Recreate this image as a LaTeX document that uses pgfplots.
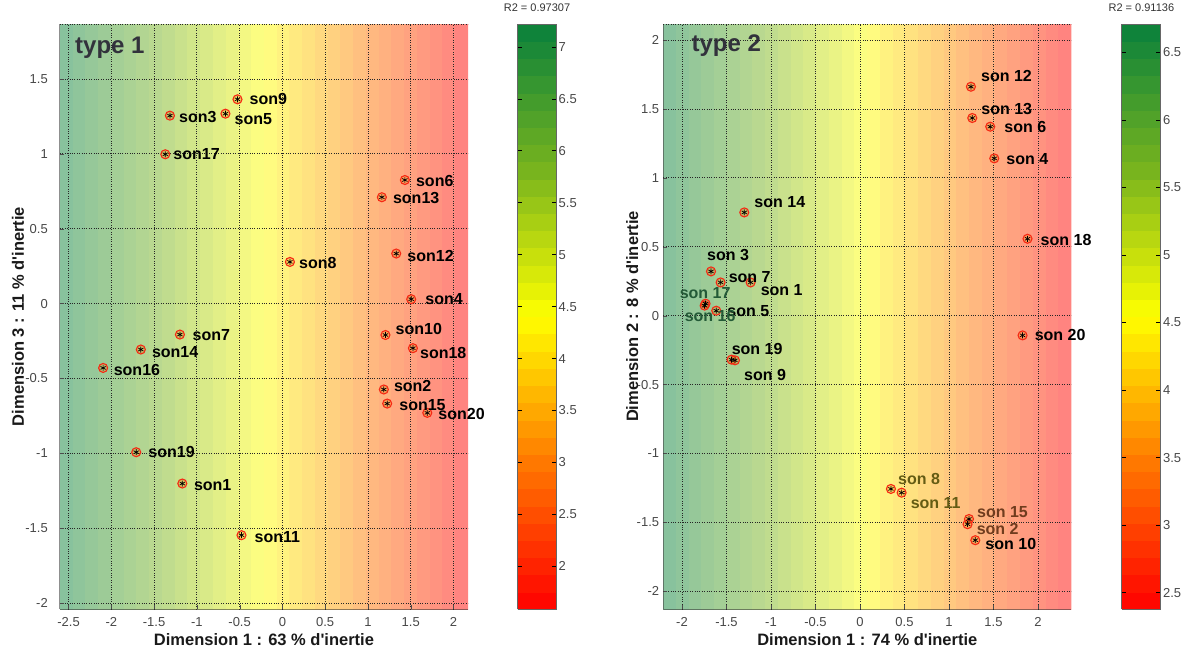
\documentclass[border=0pt]{standalone}
\usepackage{pgfplots}
\usepackage{pgfplotstable}
\pgfplotsset{compat=1.18}
\usepackage{fontspec}
\setmainfont{Liberation Sans}

\definecolor{lblgreen}{RGB}{35,90,55}
\definecolor{lblolive}{RGB}{100,92,20}
\definecolor{lblbrown}{RGB}{112,60,30}
\definecolor{ringred}{RGB}{245,40,20}
\definecolor{typegray}{RGB}{50,50,60}

\pgfplotsset{
  colormap={rgbg}{rgb255=(255,128,128) rgb255=(255,188,128) rgb255=(255,255,128) rgb255=(188,218,143) rgb255=(132,192,158)},
  colormap={rg}{rgb255=(255,0,0) rgb255=(255,120,0) rgb255=(255,255,0) rgb255=(120,180,30) rgb255=(8,128,60)},
}

% type 1 points
\pgfplotstableread{
x y lab dx dy
-0.525 1.364 son9 12 0
-1.315 1.255 son3 9 -1
-0.666 1.268 son5 9 -5
-1.369 0.997 son17 8 0
0.088 0.278 son8 9 -1
1.432 0.825 son6 11 -1
1.163 0.710 son13 11 -1
1.331 0.334 son12 11 -2
1.506 0.029 son4 14 0
1.205 -0.210 son10 10 6
1.526 -0.298 son18 7 -5
1.186 -0.574 son2 10 3.5
1.225 -0.668 son15 12 -2
1.694 -0.730 son20 11 -1.5
-1.198 -0.207 son7 12.5 -1
-1.655 -0.307 son14 11 -3
-2.096 -0.430 son16 10.5 -2.5
-1.709 -0.993 son19 12 0
-1.170 -1.202 son1 11.5 -1.5
-0.478 -1.547 son11 13 -2
}\tA

% type 2 points, grouped by label colour
\pgfplotstableread[col sep=comma]{
x,y,lab,dx,dy
1.247,1.661,son 12,10,10.7
1.262,1.434,son 13,9,9
1.464,1.371,son 6,14,-0.7
1.509,1.141,son 4,12,-0.6
1.883,0.558,son 18,13,-1
-1.300,0.749,son 14,10,10
-1.674,0.321,son 3,-4,16
-1.566,0.241,son 7,8,5
-1.229,0.241,son 1,10,-8
-1.615,0.036,son 5,11,0
-1.443,-0.319,son 19,0,10.7
-1.405,-0.324,son 9,9,-14.6
1.296,-1.629,son 10,10,-3.3
1.827,-0.143,son 20,12,0
}\tBk
\pgfplotstableread[col sep=comma]{
x,y,lab,dx,dy
-1.735,0.087,son 17,-26,11
-1.746,0.073,son 16,-20,-10.7
}\tBg
\pgfplotstableread[col sep=comma]{
x,y,lab,dx,dy
0.348,-1.257,son 8,7,9.7
0.468,-1.284,son 11,9,-10.3
}\tBo
\pgfplotstableread[col sep=comma]{
x,y,lab,dx,dy
1.225,-1.475,son 15,8,6.6
1.209,-1.513,son 2,9,-5
}\tBb

\pgfplotsset{
  myaxis/.style={
    scale only axis, width=408pt, height=585pt,
    axis on top,
    axis x line*=bottom, axis y line*=left,
    axis line style={black!80, opacity=0.55, line width=1pt},
    grid=major, grid style={dotted, black!85, line width=0.75pt},
    tick align=inside, major tick length=4pt, tick style={black!70},
    ticklabel style={font=\fontsize{13}{13}\selectfont, text=black!72, inner sep=0pt},
    /pgf/number format/assume math mode=true,
    xticklabel shift=8.7pt,
    label style={font=\fontsize{16.5}{16.5}\selectfont\bfseries, text=black!90},
    xlabel style={at={(axis description cs:0.5,-0.053)}, anchor=center},
    colormap name=rg,
    colorbar, colorbar sampled,
    colorbar style={
      at={(parent axis.north east)}, anchor=north west,
      width=39pt, samples=35,
      axis line style={black!60, line width=0.8pt},
      ytick pos=both, yticklabel pos=right,
      tick align=inside, major tick length=4.5pt, tick style={black, line width=0.6pt},
      yticklabel style={font=\fontsize{13}{13}\selectfont, text=black!72, inner sep=0pt},
      /pgf/number format/assume math mode=true,
      yticklabel shift=2pt,
      title style={at={(0.5,1)}, anchor=south, inner sep=0pt, yshift=6pt, font=\fontsize{11}{11}\selectfont, text=black!80},
    },
  },
  circ/.style={only marks, mark=*, mark size=4.5pt,
    mark options={draw=ringred, fill=orange, fill opacity=0.3, line width=1.1pt}},
  ast/.style={only marks, mark=asterisk, mark size=3pt, mark options={black, line width=0.7pt}},
  lbl/.style={draw=none, mark=none, nodes near coords, point meta=explicit symbolic,
    visualization depends on={\thisrow{dx}\as\ldx},
    visualization depends on={\thisrow{dy}\as\ldy},
    nodes near coords style={anchor=west, inner sep=0pt, xshift=\ldx pt, yshift=\ldy pt,
      font=\fontsize{16}{16}\selectfont\bfseries, text=#1}},
  lbl/.default=black,
}

\begin{document}
\begin{tikzpicture}
\begin{axis}[myaxis,
  xmin=-2.6, xmax=2.17, ymin=-2.04, ymax=1.867,
  xtick={-2.5,-2,-1.5,-1,-0.5,0,0.5,1,1.5,2},
  ytick={-2,-1.5,-1,-0.5,0,0.5,1,1.5},
  extra y ticks={1.867}, extra y tick labels={}, extra y tick style={major tick length=0pt},
  yticklabel shift=12pt,
  xlabel={Dimension 1 : 63 \% d\textquotesingle inertie},
  ylabel={Dimension 3 : 11 \% d\textquotesingle inertie},
  ylabel style={at={(axis description cs:-0.103,0.5)}, anchor=center},
  point meta min=1.59, point meta max=7.22,
  colorbar style={xshift=41pt, ytick={2,2.5,3,3.5,4,4.5,5,5.5,6,6.5,7}, title={R2 = 0.97307}},
]
\addplot[surf, shader=flat mean, colormap name=rgbg, mesh/cols=33, point meta=\thisrow{c}] table {
x y c
-2.600 -2.04 7.220
-2.451 -2.04 7.044
-2.302 -2.04 6.868
-2.153 -2.04 6.692
-2.004 -2.04 6.516
-1.855 -2.04 6.340
-1.706 -2.04 6.164
-1.557 -2.04 5.988
-1.407 -2.04 5.813
-1.258 -2.04 5.637
-1.109 -2.04 5.461
-0.960 -2.04 5.285
-0.811 -2.04 5.109
-0.662 -2.04 4.933
-0.513 -2.04 4.757
-0.364 -2.04 4.581
-0.215 -2.04 4.405
-0.066 -2.04 4.229
0.083 -2.04 4.053
0.232 -2.04 3.877
0.381 -2.04 3.701
0.531 -2.04 3.526
0.680 -2.04 3.350
0.829 -2.04 3.174
0.978 -2.04 2.998
1.127 -2.04 2.822
1.276 -2.04 2.646
1.425 -2.04 2.470
1.574 -2.04 2.294
1.723 -2.04 2.118
1.872 -2.04 1.942
2.021 -2.04 1.766
2.170 -2.04 1.590
-2.600 1.867 7.220
-2.451 1.867 7.044
-2.302 1.867 6.868
-2.153 1.867 6.692
-2.004 1.867 6.516
-1.855 1.867 6.340
-1.706 1.867 6.164
-1.557 1.867 5.988
-1.407 1.867 5.813
-1.258 1.867 5.637
-1.109 1.867 5.461
-0.960 1.867 5.285
-0.811 1.867 5.109
-0.662 1.867 4.933
-0.513 1.867 4.757
-0.364 1.867 4.581
-0.215 1.867 4.405
-0.066 1.867 4.229
0.083 1.867 4.053
0.232 1.867 3.877
0.381 1.867 3.701
0.531 1.867 3.526
0.680 1.867 3.350
0.829 1.867 3.174
0.978 1.867 2.998
1.127 1.867 2.822
1.276 1.867 2.646
1.425 1.867 2.470
1.574 1.867 2.294
1.723 1.867 2.118
1.872 1.867 1.942
2.021 1.867 1.766
2.170 1.867 1.590
};
\addplot[circ] table[x=x, y=y] {\tA};
\addplot[ast] table[x=x, y=y] {\tA};
\addplot[lbl] table[x=x, y=y, meta=lab] {\tA};
\node[anchor=west, inner sep=0pt, xshift=15pt, yshift=-24pt, font=\fontsize{24}{24}\selectfont\bfseries, text=typegray] at (rel axis cs:0,1) {type 1};
\end{axis}

\begin{axis}[myaxis, at={(603.3pt,0pt)},
  xmin=-2.21, xmax=2.375, ymin=-2.128, ymax=2.116,
  xtick={-2,-1.5,-1,-0.5,0,0.5,1,1.5,2},
  ytick={-2,-1.5,-1,-0.5,0,0.5,1,1.5,2},
  extra y ticks={2.116}, extra y tick labels={}, extra y tick style={major tick length=0pt},
  yticklabel shift=4pt,
  xlabel={Dimension 1 : 74 \% d\textquotesingle inertie},
  ylabel={Dimension 2 : 8 \% d\textquotesingle inertie},
  ylabel style={at={(axis description cs:-0.076,0.5)}, anchor=center},
  point meta min=2.38, point meta max=6.71,
  colorbar style={xshift=42pt, ytick={2.5,3,3.5,4,4.5,5,5.5,6,6.5}, title={R2 = 0.91136}},
]
\addplot[surf, shader=flat mean, colormap name=rgbg, mesh/cols=33, point meta=\thisrow{c}] table {
x y c
-2.210 -2.128 6.710
-2.067 -2.128 6.575
-1.923 -2.128 6.439
-1.780 -2.128 6.304
-1.637 -2.128 6.169
-1.494 -2.128 6.033
-1.350 -2.128 5.898
-1.207 -2.128 5.763
-1.064 -2.128 5.628
-0.920 -2.128 5.492
-0.777 -2.128 5.357
-0.634 -2.128 5.222
-0.491 -2.128 5.086
-0.347 -2.128 4.951
-0.204 -2.128 4.816
-0.061 -2.128 4.680
0.083 -2.128 4.545
0.226 -2.128 4.410
0.369 -2.128 4.274
0.512 -2.128 4.139
0.656 -2.128 4.004
0.799 -2.128 3.869
0.942 -2.128 3.733
1.086 -2.128 3.598
1.229 -2.128 3.463
1.372 -2.128 3.327
1.515 -2.128 3.192
1.659 -2.128 3.057
1.802 -2.128 2.921
1.945 -2.128 2.786
2.088 -2.128 2.651
2.232 -2.128 2.515
2.375 -2.128 2.380
-2.210 2.116 6.710
-2.067 2.116 6.575
-1.923 2.116 6.439
-1.780 2.116 6.304
-1.637 2.116 6.169
-1.494 2.116 6.033
-1.350 2.116 5.898
-1.207 2.116 5.763
-1.064 2.116 5.628
-0.920 2.116 5.492
-0.777 2.116 5.357
-0.634 2.116 5.222
-0.491 2.116 5.086
-0.347 2.116 4.951
-0.204 2.116 4.816
-0.061 2.116 4.680
0.083 2.116 4.545
0.226 2.116 4.410
0.369 2.116 4.274
0.512 2.116 4.139
0.656 2.116 4.004
0.799 2.116 3.869
0.942 2.116 3.733
1.086 2.116 3.598
1.229 2.116 3.463
1.372 2.116 3.327
1.515 2.116 3.192
1.659 2.116 3.057
1.802 2.116 2.921
1.945 2.116 2.786
2.088 2.116 2.651
2.232 2.116 2.515
2.375 2.116 2.380
};
\addplot[circ] table[x=x, y=y] {\tBk};
\addplot[circ] table[x=x, y=y] {\tBg};
\addplot[circ] table[x=x, y=y] {\tBo};
\addplot[circ] table[x=x, y=y] {\tBb};
\addplot[ast] table[x=x, y=y] {\tBk};
\addplot[ast] table[x=x, y=y] {\tBg};
\addplot[ast] table[x=x, y=y] {\tBo};
\addplot[ast] table[x=x, y=y] {\tBb};
\addplot[lbl] table[x=x, y=y, meta=lab] {\tBk};
\addplot[lbl=lblgreen] table[x=x, y=y, meta=lab] {\tBg};
\addplot[lbl=lblolive] table[x=x, y=y, meta=lab] {\tBo};
\addplot[lbl=lblbrown] table[x=x, y=y, meta=lab] {\tBb};
\node[anchor=west, inner sep=0pt, xshift=28pt, yshift=-22pt, font=\fontsize{24}{24}\selectfont\bfseries, text=typegray] at (rel axis cs:0,1) {type 2};
\end{axis}
\pgfresetboundingbox
\path (-60pt,-44pt) rectangle (1128pt,609pt);
\end{tikzpicture}
\end{document}
